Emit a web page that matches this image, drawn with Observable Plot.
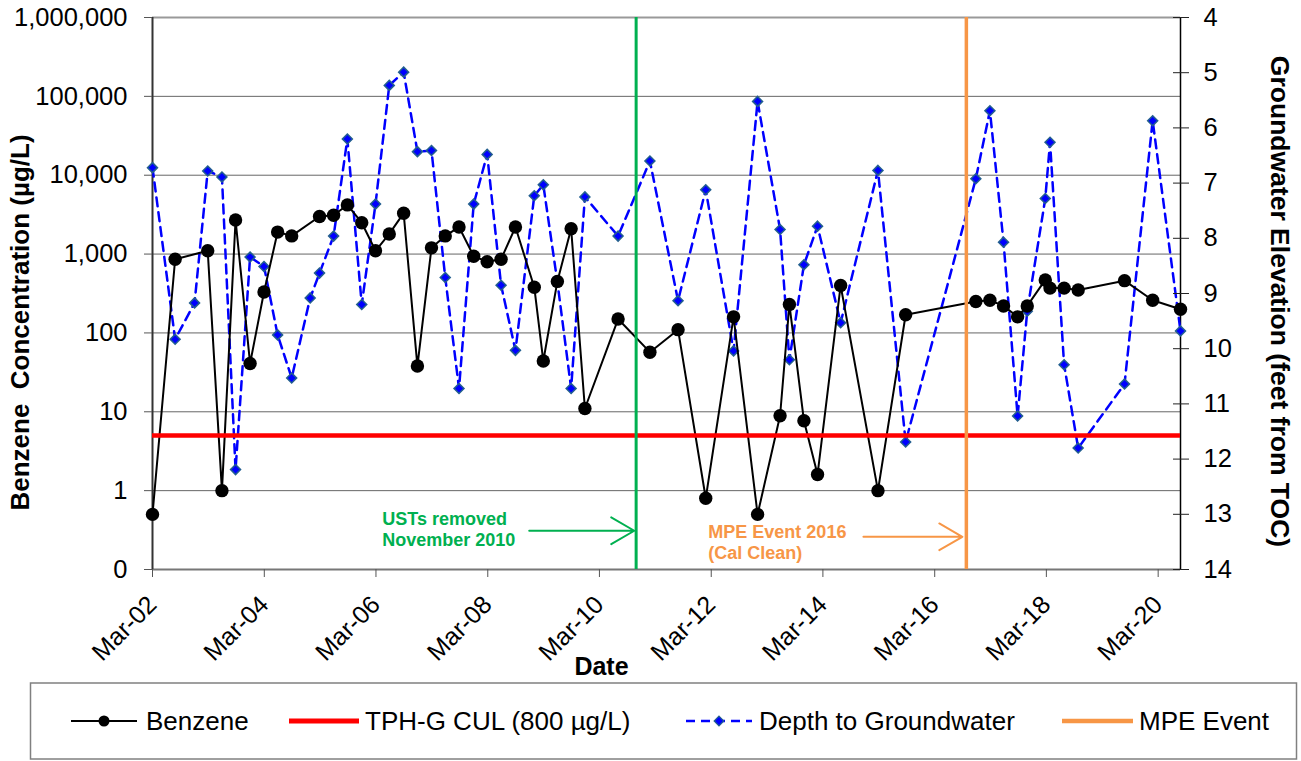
<!DOCTYPE html>
<html>
<head>
<meta charset="utf-8">
<script src="https://cdn.jsdelivr.net/npm/d3@7"></script>
<script src="https://cdn.jsdelivr.net/npm/@observablehq/plot@0.6"></script>
<style>
  body { margin: 0; background: #fff; }
  #wrap { position: relative; width: 1301px; height: 761px; font-family: "Liberation Sans", Arial, sans-serif; }
  #wrap svg text { white-space: pre; }
  #legend { position: absolute; left: 0; top: 680px; }
</style>
</head>
<body>
<div id="wrap"><div id="chart"></div><div id="legend"></div></div>
<script>
// ---------- data ----------
const benzeneDates = [
  "2002-03-01","2002-07-27","2003-02-25","2003-05-29","2003-08-26","2003-11-29","2004-02-28","2004-05-27","2004-08-27",
  "2005-02-25","2005-05-28","2005-08-26","2005-11-28","2006-02-26","2006-05-27","2006-08-29","2006-11-27",
  "2007-02-27","2007-05-28","2007-08-26","2007-11-30","2008-02-26","2008-05-27","2008-08-29","2008-12-30",
  "2009-02-27","2009-05-30","2009-08-28","2009-11-26","2010-07-01","2011-01-25","2011-07-28","2012-01-25",
  "2012-07-25","2012-12-29","2013-05-25","2013-07-25","2013-10-28","2014-01-25","2014-06-25","2015-02-24",
  "2015-08-24","2016-11-25","2017-02-25","2017-05-25","2017-08-25","2017-10-27","2018-02-22","2018-03-25",
  "2018-06-25","2018-09-25","2019-07-25","2020-01-25","2020-07-25"
];
const benzeneValues = [
  0.5, 860, 1100, 1, 2700, 41, 330, 1900, 1700,
  3000, 3100, 4200, 2500, 1100, 1800, 3300, 38,
  1200, 1700, 2200, 940, 800, 860, 2200, 380,
  44, 450, 2100, 11, 150, 57, 110, 0.8,
  160, 0.5, 8.9, 230, 7.7, 1.6, 400, 1,
  170, 250, 260, 220, 160, 220, 470, 370,
  370, 350, 460, 260, 200
];
const groundwaterDates = [
  "2002-03-01","2002-07-27","2002-12-01","2003-02-25","2003-05-29","2003-08-26","2003-11-29","2004-02-28","2004-05-27","2004-08-27",
  "2004-12-26","2005-02-25","2005-05-28","2005-08-26","2005-11-28","2006-02-26","2006-05-27","2006-08-29","2006-11-27",
  "2007-02-27","2007-05-28","2007-08-26","2007-11-30","2008-02-26","2008-05-27","2008-08-29","2008-12-30",
  "2009-02-27","2009-05-30","2009-08-28","2009-11-26","2010-07-01","2011-01-25","2011-07-28","2012-01-25",
  "2012-07-25","2012-12-29","2013-05-25","2013-07-25","2013-10-28","2014-01-25","2014-06-25","2015-02-24",
  "2015-08-24","2016-11-25","2017-02-25","2017-05-25","2017-08-25","2017-10-27","2018-02-22","2018-03-25",
  "2018-06-25","2018-09-25","2019-07-25","2020-01-25","2020-07-25"
];
const groundwaterDepths = [
  6.72, 9.83, 9.17, 6.78, 6.89, 12.19, 8.34, 8.51, 9.75, 10.53,
  9.08, 8.63, 7.96, 6.20, 9.20, 7.38, 5.23, 4.99, 6.43,
  6.41, 8.71, 10.72, 7.38, 6.48, 8.85, 10.03, 7.23,
  7.03, 8.79, 10.72, 7.25, 7.96, 6.60, 9.13, 7.12,
  10.04, 5.52, 7.84, 10.20, 8.48, 7.78, 9.53, 6.77,
  11.69, 6.92, 5.69, 8.07, 11.22, 9.32, 7.28, 6.26,
  10.29, 11.80, 10.64, 5.87, 9.68
];
const leftTickValues = [0.1, 1, 10, 100, 1000, 10000, 100000, 1000000];
const leftTickLabels = ["0", "1", "10", "100", "1,000", "10,000", "100,000", "1,000,000"];
const rightTickValues = [4, 5, 6, 7, 8, 9, 10, 11, 12, 13, 14];
const xTickYears = [2002, 2004, 2006, 2008, 2010, 2012, 2014, 2016, 2018, 2020];
const cleanupLevel = 5;
const ustRemovedDate = "2010-10-27";
const mpeEventDate = "2016-09-24";
const xDomain = ["2002-03-01", "2020-07-25"];
const seriesNames = ["Benzene", "TPH-G CUL (800 µg/L)", "Depth to Groundwater", "MPE Event"];

// ---------- build ----------
const D = s => new Date(s + "T00:00:00Z");
const depthToY = d => Math.pow(10, 6 - 0.7 * (d - 4));   // 4 ft -> 1e6, 14 ft -> 0.1

const benzene = benzeneDates.map((d, i) => ({date: D(d), value: benzeneValues[i]}));
const gw = groundwaterDates.map((d, i) => ({date: D(d), depth: groundwaterDepths[i]}));
const x0 = D(xDomain[0]), x1 = D(xDomain[1]);
const xTicks = xTickYears.map(y => new Date(Date.UTC(y, 2, 1)));
const rightTicks = rightTickValues.map(v => ({depth: v, y: depthToY(v)}));
const font = '"Liberation Sans", Arial, sans-serif';

const chart = Plot.plot({
  width: 1301, height: 680,
  marginLeft: 152, marginRight: 121, marginTop: 17, marginBottom: 111,
  style: {fontFamily: font, fontSize: "25px", color: "#000", background: "#fff", overflow: "visible"},
  x: {type: "utc", domain: [x0, x1]},
  y: {type: "log", domain: [0.1, 1e6]},
  marks: [
    Plot.ruleY(leftTickValues.slice(1, -1), {stroke: "#666", strokeWidth: 1}),
    Plot.ruleY([1e6], {stroke: "#999", strokeWidth: 2}),
    Plot.ruleY([0.1], {stroke: "#777", strokeWidth: 2}),
    Plot.ruleX([x0], {stroke: "#333", strokeWidth: 2}),
    Plot.ruleX([x1], {stroke: "#000", strokeWidth: 1.5}),
    // groundwater (secondary axis)
    Plot.line(gw, {x: "date", y: d => depthToY(d.depth), stroke: "#0000FF", strokeWidth: 2.5, strokeDasharray: "9,6"}),
    Plot.dot(gw, {x: "date", y: d => depthToY(d.depth), symbol: "diamond2", r: 4.5, fill: "#0000FF", stroke: "#235F8F", strokeWidth: 1.5}),
    // benzene
    Plot.line(benzene, {x: "date", y: "value", stroke: "#000", strokeWidth: 2}),
    Plot.dot(benzene, {x: "date", y: "value", r: 6.7, fill: "#000"}),
    // reference lines
    Plot.ruleY([cleanupLevel], {stroke: "#FF0000", strokeWidth: 4.5}),
    Plot.ruleX([D(ustRemovedDate)], {stroke: "#00B050", strokeWidth: 3}),
    Plot.ruleX([D(mpeEventDate)], {stroke: "#F79646", strokeWidth: 3.5}),
    // annotations
    Plot.text(["USTs removed\nNovember 2010"], {x: D("2006-04-11"), y: 0.33, textAnchor: "start", fill: "#00B050", fontWeight: "bold", fontSize: 18, lineHeight: 1.17}),
    Plot.arrow([0], {x1: D("2008-11-27"), x2: D("2010-10-15"), y1: 0.31, y2: 0.31, stroke: "#00B050", strokeWidth: 2, headLength: 20, headAngle: 60}),
    Plot.text(["MPE Event 2016\n(Cal Clean)"], {x: D("2012-02-11"), y: 0.225, textAnchor: "start", fill: "#F79646", fontWeight: "bold", fontSize: 18, lineHeight: 1.2}),
    Plot.arrow([0], {x1: D("2014-11-21"), x2: D("2016-08-29"), y1: 0.26, y2: 0.26, stroke: "#F79646", strokeWidth: 2, headLength: 20, headAngle: 60}),
    // axes
    Plot.axisY(leftTickValues, {anchor: "left", tickSize: 8, tickPadding: 17, stroke: "#555", label: null,
      tickFormat: v => leftTickLabels[leftTickValues.indexOf(v)], fontSize: 25.5}),
    Plot.axisY(rightTicks.map(d => d.y), {anchor: "right", tickSize: 16, dx: -8, stroke: "#222", label: null, tickFormat: () => ""}),
    Plot.text(rightTicks, {y: "y", text: d => String(d.depth), frameAnchor: "right", dx: 23, textAnchor: "start", fontSize: 25.5}),
    Plot.axisX(xTicks, {anchor: "bottom", tickSize: 8, tickPadding: 23, tickRotate: -45, stroke: "#555", label: null,
      tickFormat: d => "Mar-" + String(d.getUTCFullYear()).slice(2), fontSize: 25}),
    // axis titles
    Plot.text(["Benzene  Concentration (µg/L)"], {frameAnchor: "left", textAnchor: "middle", dx: -132, dy: 29, rotate: -90, fontWeight: "bold", fontSize: 26}),
    Plot.text(["Groundwater Elevation (feet from TOC)"], {frameAnchor: "right", textAnchor: "middle", dx: 99, dy: 8, rotate: 90, fontWeight: "bold", fontSize: 26.5}),
    Plot.text(["Date"], {frameAnchor: "bottom", textAnchor: "middle", dx: -65, dy: 105, fontWeight: "bold", fontSize: 25})
  ]
});
document.getElementById("chart").appendChild(chart);

// ---------- legend ----------
const lg = d3.select("#legend").append("svg").attr("width", 1301).attr("height", 81)
  .style("font-family", font).style("font-size", "26px");
lg.append("rect").attr("x", 30.5).attr("y", 3).attr("width", 1266).attr("height", 76)
  .attr("fill", "#fff").attr("stroke", "#808080").attr("stroke-width", 1.5);
const cy = 41;
lg.append("line").attr("x1", 71).attr("x2", 137).attr("y1", cy).attr("y2", cy).attr("stroke", "#000").attr("stroke-width", 2);
lg.append("circle").attr("cx", 104).attr("cy", cy).attr("r", 5.5).attr("fill", "#000");
lg.append("line").attr("x1", 289).attr("x2", 359).attr("y1", cy).attr("y2", cy).attr("stroke", "#FF0000").attr("stroke-width", 5);
lg.append("line").attr("x1", 686).attr("x2", 752).attr("y1", cy).attr("y2", cy).attr("stroke", "#0000FF").attr("stroke-width", 2.5).attr("stroke-dasharray", "9,6");
lg.append("path").attr("d", d3.symbol(d3.symbolDiamond2, 60)()).attr("transform", `translate(719,${cy})`)
  .attr("fill", "#0000FF").attr("stroke", "#235F8F").attr("stroke-width", 1.2);
lg.append("line").attr("x1", 1062).attr("x2", 1133).attr("y1", cy).attr("y2", cy).attr("stroke", "#F79646").attr("stroke-width", 4.5);
const lx = [146, 365, 759, 1139];
seriesNames.forEach((t, i) => lg.append("text").attr("x", lx[i]).attr("y", cy).attr("dy", "0.35em").text(t));
</script>
</body>
</html>
